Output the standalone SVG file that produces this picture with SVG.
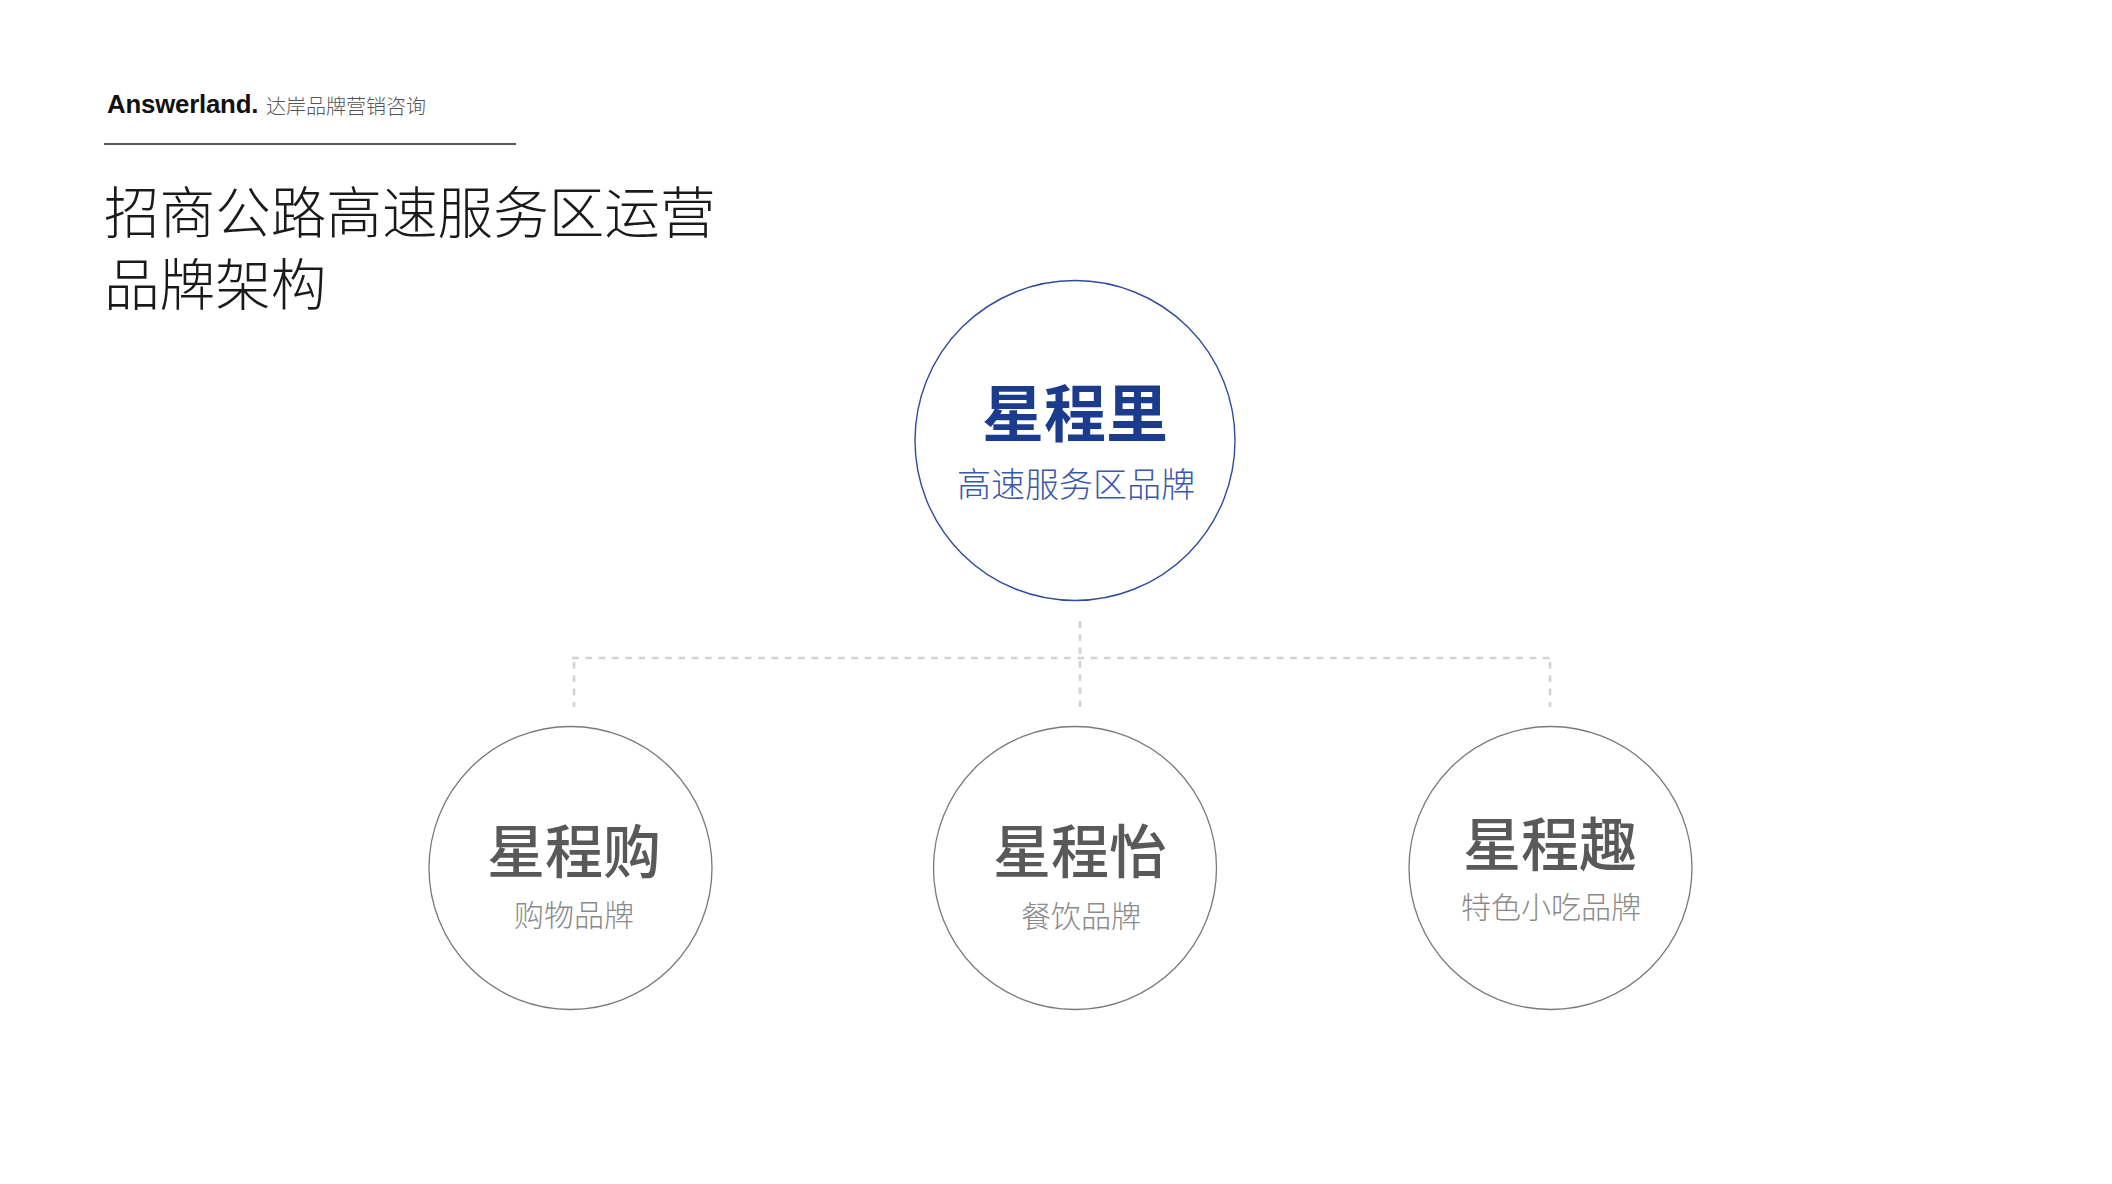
<svg xmlns="http://www.w3.org/2000/svg" width="2112" height="1184" viewBox="0 0 2112 1184">
  <style>
    .cjk { font-family: "Noto Sans CJK SC", "Noto Sans", sans-serif; }
    .title { font-weight: 300; font-size: 55.6px; fill: #1a1a1a; }
    .ring { fill: #ffffff; stroke: #7a7a7a; stroke-width: 1.3; }
    .ring-main { fill: #ffffff; stroke: #2e4b9c; stroke-width: 1.4; }
    .name { font-weight: 500; font-size: 58px; fill: #595959; text-anchor: middle; }
    .sub { font-weight: 300; font-size: 30px; fill: #8a8a8a; text-anchor: middle; }
    .link { stroke: #d2d2d2; stroke-width: 2.6; fill: none; stroke-dasharray: 6.7 6.6; }
  </style>
  <rect width="2112" height="1184" fill="#ffffff"/>

  <g id="header">
    <text x="107" y="113" font-family="Liberation Sans, Arial, sans-serif" font-weight="700" font-size="25.8" fill="#111111" letter-spacing="-0.2">Answerland.</text>
    <text x="266" y="113.5" class="cjk" font-weight="300" font-size="20" fill="#555555">达岸品牌营销咨询</text>
    <line x1="104" y1="144" x2="516" y2="144" stroke="#222222" stroke-width="1.5"/>
    <text x="104" y="233" class="cjk title">招商公路高速服务区运营</text>
    <text x="104" y="305" class="cjk title">品牌架构</text>
  </g>

  <g id="connectors">
    <line class="link" x1="1080" y1="621" x2="1080" y2="707"/>
    <line class="link" x1="572" y1="658" x2="1552" y2="658"/>
    <line class="link" x1="574" y1="662" x2="574" y2="707"/>
    <line class="link" x1="1550" y1="662" x2="1550" y2="707"/>
  </g>

  <g id="node-main">
    <circle class="ring-main" cx="1075" cy="440.5" r="160"/>
    <text x="1075" y="437" class="cjk" font-weight="700" font-size="62" fill="#1b3b8d" text-anchor="middle">星程里</text>
    <text x="1076" y="497" class="cjk" font-weight="300" font-size="34" fill="#3a58aa" text-anchor="middle">高速服务区品牌</text>
  </g>

  <g id="node-shop">
    <circle class="ring" cx="570.5" cy="868" r="141.5"/>
    <text x="574" y="873" class="cjk name">星程购</text>
    <text x="574" y="925.5" class="cjk sub">购物品牌</text>
  </g>

  <g id="node-food">
    <circle class="ring" cx="1075" cy="868" r="141.5"/>
    <text x="1080" y="873" class="cjk name">星程怡</text>
    <text x="1081" y="927" class="cjk sub">餐饮品牌</text>
  </g>

  <g id="node-snack">
    <circle class="ring" cx="1550.5" cy="868" r="141.5"/>
    <text x="1550" y="866" class="cjk name">星程趣</text>
    <text x="1551" y="917.5" class="cjk sub">特色小吃品牌</text>
  </g>
</svg>
